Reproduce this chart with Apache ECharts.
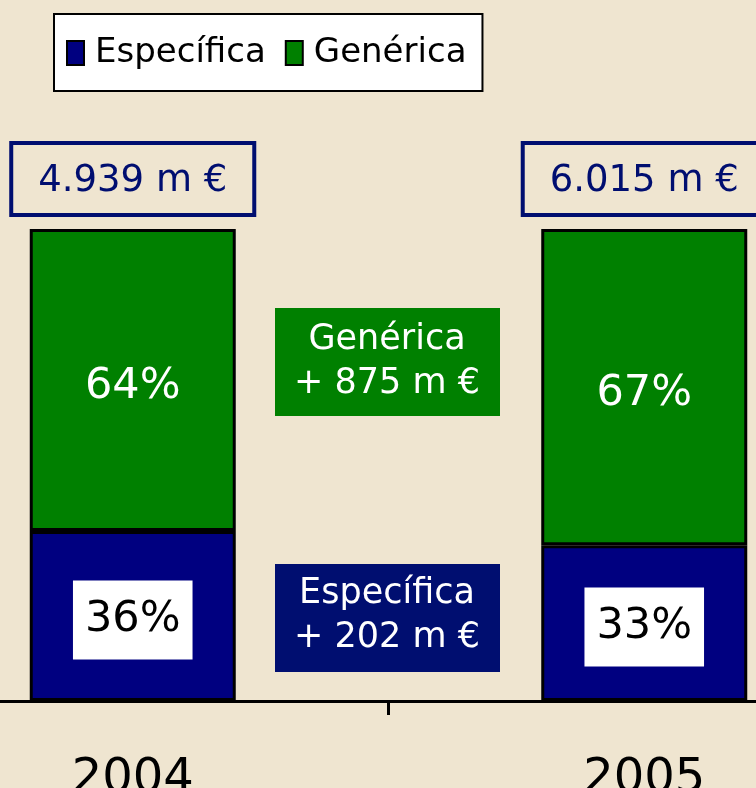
<!DOCTYPE html>
<html>
<head>
<meta charset="utf-8">
<script src="https://cdn.jsdelivr.net/npm/echarts@6/dist/echarts.min.js"></script>
<style>
  html, body { margin: 0; padding: 0; background: #EFE5D0; }
  #chart { width: 756px; height: 788px; }
</style>
</head>
<body>
<div id="chart"></div>
<script>
var years = ['2004', '2005'];
var especifica = [36, 33];
var generica = [64, 67];
var totals = ['4.939 m €', '6.015 m €'];
var notes = ['Genérica\n+ 875 m €', 'Específica\n+ 202 m €'];

var FONT = 'DejaVu Sans';
var NAVY = '#000080';
var GREEN = '#008000';
var BOXNAVY = '#000E70';

var chart = echarts.init(document.getElementById('chart'));

var option = {
    backgroundColor: '#EFE5D0',
    animation: false,
    legend: {
        data: ['Específica', 'Genérica'],
        left: 54,
        top: 14,
        padding: [22, 16, 21, 12],
        backgroundColor: '#fff',
        borderColor: '#000',
        borderWidth: 2,
        borderRadius: 0,
        icon: 'rect',
        itemWidth: 17,
        itemHeight: 24,
        itemGap: 19,
        itemStyle: { borderColor: '#000', borderWidth: 2 },
        textStyle: { fontFamily: FONT, fontSize: 34, color: '#000', padding: [0, 0, 0, 6] }
    },
    grid: { left: -123, right: -144, top: 229, bottom: 87, outerBoundsMode: 'none', containLabel: false },
    xAxis: {
        type: 'category',
        data: years,
        axisLine: { lineStyle: { color: '#000', width: 3 } },
        axisTick: { show: true, interval: 0, length: 14, lineStyle: { color: '#000', width: 3 } },
        axisLabel: { fontFamily: FONT, fontSize: 48, color: '#000', margin: 55 }
    },
    yAxis: { type: 'value', min: 0, max: 100, show: false },
    series: [
        {
            name: 'Específica',
            type: 'bar',
            stack: 'a',
            barWidth: 206,
            data: especifica,
            itemStyle: { color: NAVY, borderColor: '#000', borderWidth: 3 },
            label: {
                show: true,
                position: 'inside',
                offset: [0, 4],
                formatter: '{c}%',
                fontFamily: FONT,
                fontSize: 43,
                color: '#000',
                backgroundColor: '#fff',
                padding: [19, 12, 17, 12]
            }
        },
        {
            name: 'Genérica',
            type: 'bar',
            stack: 'a',
            data: generica,
            itemStyle: { color: GREEN, borderColor: '#000', borderWidth: 3 },
            label: {
                show: true,
                position: 'inside',
                offset: [0, 7],
                formatter: '{c}%',
                fontFamily: FONT,
                fontSize: 43,
                color: '#fff'
            }
        },
        {
            name: 'Total',
            type: 'bar',
            stack: 'a',
            data: [0, 0],
            itemStyle: { color: 'transparent', borderWidth: 0 },
            label: {
                show: true,
                position: 'top',
                distance: 14,
                formatter: function (p) { return totals[p.dataIndex]; },
                fontFamily: FONT,
                fontSize: 37,
                color: BOXNAVY,
                borderColor: BOXNAVY,
                borderWidth: 4,
                padding: [20, 27, 15, 27]
            }
        }
    ],
    graphic: [
        {
            type: 'group',
            left: 275,
            top: 308,
            children: [
                { type: 'rect', shape: { x: 0, y: 0, width: 225, height: 108 }, style: { fill: GREEN } },
                {
                    type: 'text', x: 112, y: 54,
                    style: { text: notes[0], fill: '#fff', font: '35px "' + FONT + '"', align: 'center', verticalAlign: 'middle', lineHeight: 44 }
                }
            ]
        },
        {
            type: 'group',
            left: 275,
            top: 564,
            children: [
                { type: 'rect', shape: { x: 0, y: 0, width: 225, height: 108 }, style: { fill: BOXNAVY } },
                {
                    type: 'text', x: 112, y: 52,
                    style: { text: notes[1], fill: '#fff', font: '35px "' + FONT + '"', align: 'center', verticalAlign: 'middle', lineHeight: 44 }
                }
            ]
        }
    ]
};

chart.setOption(option);
</script>
</body>
</html>
